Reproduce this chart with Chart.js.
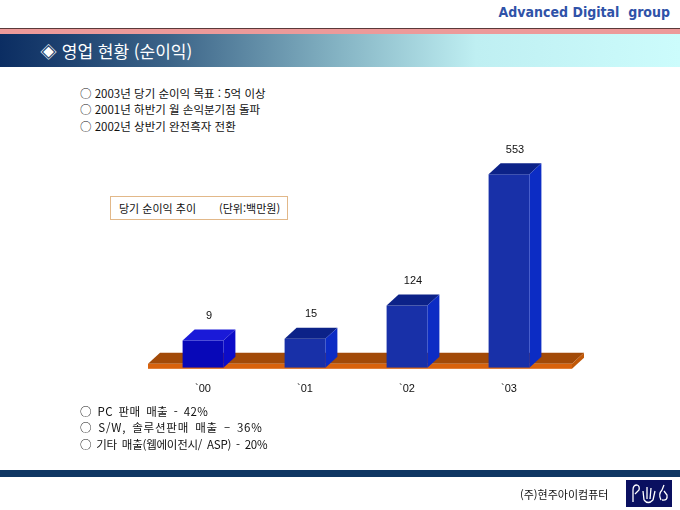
<!DOCTYPE html>
<html lang="ko">
<head>
<meta charset="utf-8">
<script src="https://cdn.jsdelivr.net/npm/chart.js@4"></script>
<style>
  body { margin: 0; background: #fff; }
  #page { position: relative; width: 680px; height: 510px; overflow: hidden; font-family: "Noto Sans CJK KR", sans-serif; }
  #chart { position: absolute; left: 0; top: 0; width: 680px; height: 510px; }
  .abs { position: absolute; white-space: nowrap; }
  #brand { right: 10px; top: 4px; font: bold 14px "DejaVu Sans Condensed", "DejaVu Sans", sans-serif; color: #2f52a8; }
  #rule { left: 0; top: 28px; width: 680px; height: 1px; background: #5a3a3a; }
  #pink { left: 0; top: 29px; width: 680px; height: 5px; background: #ec9a9a; }
  #band { left: 0; top: 34px; width: 680px; height: 33px;
          background: linear-gradient(to right, #0b2d62 0%, #3c6488 25%, #85b4c4 50%, #bfeff2 70%, #ccfcfc 100%); }
  #title { left: 40px; top: 38px; font-size: 17px; color: #fff; }
  .bul { font-size: 11.5px; color: #111; letter-spacing: 0; }
  .bul2 { font-size: 11.5px; color: #111; word-spacing: 2px; }
  #legend { left: 110px; top: 196px; width: 176px; height: 22px; border: 1px solid #e2b889;
            font-size: 11px; color: #111; }
  #legend span { position: absolute; top: 3px; }
  #navy { left: 0; top: 470px; width: 680px; height: 7px; background: #0f3763; }
  #corp { left: 520px; top: 486px; font-size: 11px; color: #111; }
  #logo { left: 626px; top: 480px; width: 46px; height: 27px; background: #0a1060; }
</style>
</head>
<body>
<div id="page">
  <div class="abs" id="brand">Advanced Digital&nbsp; group</div>
  <div class="abs" id="rule"></div>
  <div class="abs" id="pink"></div>
  <div class="abs" id="band"></div>
  <div class="abs" id="title">◈ 영업 현황 (순이익)</div>

  <div class="abs bul" style="left:80px;top:85px">○ 2003년 당기 순이익 목표 : 5억 이상</div>
  <div class="abs bul" style="left:80px;top:101px">○ 2001년 하반기 월 손익분기점 돌파</div>
  <div class="abs bul" style="left:80px;top:118px">○ 2002년 상반기 완전흑자 전환</div>

  <div class="abs" id="legend"><span style="left:8px">당기 순이익 추이</span><span style="left:108px">(단위:백만원)</span></div>

  <canvas id="chart" width="680" height="510"></canvas>

  <div class="abs bul2" style="left:80px;top:403px;letter-spacing:0.4px">○ PC 판매 매출 - 42%</div>
  <div class="abs bul2" style="left:80px;top:419px;letter-spacing:0.8px">○ S/W, 솔루션판매 매출 – 36%</div>
  <div class="abs bul2" style="left:80px;top:436px;letter-spacing:-0.25px">○ 기타 매출(웹에이전시/ ASP) - 20%</div>

  <div class="abs" id="navy"></div>
  <div class="abs" id="corp">(주)현주아이컴퓨터</div>
  <div class="abs" id="logo">
    <svg width="46" height="27" viewBox="0 0 46 27" fill="none" stroke="#fff" stroke-width="1.3">
      <path d="M7 22 L7 10 Q7 5 11 5 Q14 6 13 10 L9 14"/>
      <path d="M18 20 L17 11 M21 19 L21 7 M24 19 L25 8 M27 20 L29 11 M18 20 Q22 25 27 20"/>
      <path d="M35 20 Q32 14 36 10 L38 5 M36 20 Q42 21 41 15 L38 11"/>
    </svg>
  </div>
</div>

<script>
// 당기 순이익 (단위: 백만원)
const years = ['`00', '`01', '`02', '`03'];
const profit = [9, 15, 124, 553];

const Y_MIN = -80;
const Y_MAX = 600;
const DEPTH_X = 12;
const DEPTH_Y = 11;

// orange floor under the bars
const floorPlugin = {
  id: 'floor',
  beforeDatasetsDraw(chart) {
    const { ctx, chartArea } = chart;
    const y0 = chart.scales.y.getPixelForValue(Y_MIN);
    const l = chartArea.left - 4, r = chartArea.right + 12;
    ctx.save();
    // top face
    ctx.fillStyle = '#a24a08';
    ctx.beginPath();
    ctx.moveTo(l, y0 - 4);
    ctx.lineTo(l + DEPTH_X, y0 - 4 - DEPTH_Y);
    ctx.lineTo(r + DEPTH_X, y0 - 4 - DEPTH_Y);
    ctx.lineTo(r, y0 - 4);
    ctx.closePath();
    ctx.fill();
    // front face
    ctx.fillStyle = '#d8620c';
    ctx.fillRect(l, y0 - 4, r - l, 5);
    // right side
    ctx.fillStyle = '#c05808';
    ctx.beginPath();
    ctx.moveTo(r, y0 - 4);
    ctx.lineTo(r + DEPTH_X, y0 - 4 - DEPTH_Y);
    ctx.lineTo(r + DEPTH_X, y0 + 1 - DEPTH_Y);
    ctx.lineTo(r, y0 + 1);
    ctx.closePath();
    ctx.fill();
    ctx.restore();
  }
};

// top and side faces of each bar, plus value labels
const depthPlugin = {
  id: 'depth',
  afterDatasetsDraw(chart) {
    const { ctx } = chart;
    const meta = chart.getDatasetMeta(0);
    ctx.save();
    meta.data.forEach((bar, i) => {
      const x1 = bar.x - bar.width / 2, x2 = bar.x + bar.width / 2;
      const top = bar.y, base = bar.base;
      const first = i === 0;
      ctx.fillStyle = first ? '#1a1ad8' : '#0c2288';
      ctx.beginPath();
      ctx.moveTo(x1, top);
      ctx.lineTo(x1 + DEPTH_X, top - DEPTH_Y);
      ctx.lineTo(x2 + DEPTH_X, top - DEPTH_Y);
      ctx.lineTo(x2, top);
      ctx.closePath();
      ctx.fill();
      ctx.fillStyle = first ? '#0c0cc8' : '#0c2cc4';
      ctx.beginPath();
      ctx.moveTo(x2, top);
      ctx.lineTo(x2 + DEPTH_X, top - DEPTH_Y);
      ctx.lineTo(x2 + DEPTH_X, base - DEPTH_Y);
      ctx.lineTo(x2, base);
      ctx.closePath();
      ctx.fill();

      ctx.fillStyle = '#111';
      ctx.font = '11px "Liberation Sans", Arial, sans-serif';
      ctx.textAlign = 'center';
      ctx.textBaseline = 'bottom';
      ctx.fillText(String(profit[i]), bar.x + DEPTH_X / 2, top - DEPTH_Y - 8);
    });
    ctx.restore();
  }
};

new Chart(document.getElementById('chart'), {
  type: 'bar',
  data: {
    labels: years,
    datasets: [{
      data: profit,
      base: Y_MIN,
      backgroundColor: ['#0808b8', '#1830a8', '#1830a8', '#1830a8'],
      borderWidth: 0,
      barPercentage: 0.4,
      categoryPercentage: 1
    }]
  },
  options: {
    responsive: false,
    animation: false,
    layout: { padding: { left: 152, right: 120, top: 160, bottom: 107 } },
    plugins: { legend: { display: false }, tooltip: { enabled: false } },
    scales: {
      x: {
        grid: { display: false },
        border: { display: false },
        ticks: { color: '#111', padding: 7, font: { family: '"Liberation Sans", Arial, sans-serif', size: 11 } }
      },
      y: { display: false, min: Y_MIN, max: Y_MAX }
    }
  },
  plugins: [floorPlugin, depthPlugin]
});
</script>
</body>
</html>
